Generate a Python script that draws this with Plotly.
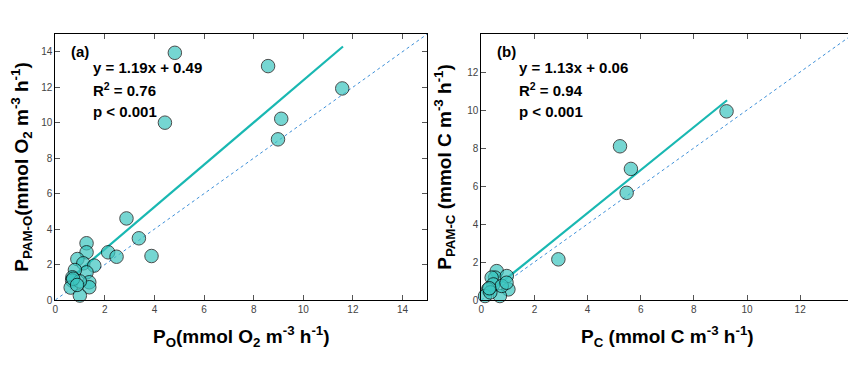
import plotly.graph_objects as go

# Panel (a): oxygen-based production
po_x = [4.82, 8.58, 11.57, 4.42, 9.11, 8.98, 2.87, 3.37, 3.88, 2.13, 2.47,
        1.26, 1.26, 0.89, 1.13, 1.57, 1.26, 0.79, 0.69, 0.68, 1.37, 1.37,
        0.62, 0.99, 0.99, 0.72, 0.88]
po_y = [13.94, 13.19, 11.93, 10.0, 10.22, 9.06, 4.6, 3.48, 2.48, 2.69, 2.44,
        3.2, 2.69, 2.31, 2.07, 1.94, 1.56, 1.69, 1.28, 1.1, 1.0, 0.72,
        0.7, 0.25, 1.05, 1.2, 0.85]
fit_a = (1.19, 0.49)
fit_a_x = [0.86, 11.6]

# Panel (b): carbon-based production
pc_x = [9.23, 5.22, 5.63, 5.47, 2.9, 0.58, 0.52, 0.39, 0.96, 0.45, 1.02,
        0.26, 0.14, 0.7, 0.77, 0.34, 0.95, 0.3]
pc_y = [9.93, 8.09, 6.9, 5.64, 2.14, 1.52, 1.18, 1.18, 1.26, 0.82, 0.56,
        0.56, 0.21, 0.21, 0.74, 0.4, 0.91, 0.62]
fit_b = (1.13, 0.06)
fit_b_x = [0.3, 9.25]

ticks_a = [0, 2, 4, 6, 8, 10, 12, 14]
ticks_b = [0, 2, 4, 6, 8, 10, 12]

FONT = "Arial, Liberation Sans, sans-serif"
LINE_COL = "#19b8b2"
ONE_COL = "#3d8fd8"
MARK_COL = "#3cc6c0"

W, H = 848, 358  # page body has an 8px margin
MT, MB = 26, 66
PH = H - MT - MB

fig = go.Figure()

def add_panel(xs, ys, fit, fx, lim, xa, ya):
    fig.add_trace(go.Scatter(x=[0, lim], y=[0, lim], mode="lines",
                             line=dict(color=ONE_COL, width=1, dash="dot"),
                             xaxis=xa, yaxis=ya, showlegend=False))
    fig.add_trace(go.Scatter(x=fx, y=[fit[0] * v + fit[1] for v in fx], mode="lines",
                             line=dict(color=LINE_COL, width=2.2),
                             xaxis=xa, yaxis=ya, showlegend=False))
    fig.add_trace(go.Scatter(x=xs, y=ys, mode="markers",
                             marker=dict(size=13.5, color=MARK_COL, opacity=0.7,
                                         line=dict(color="black", width=1)),
                             xaxis=xa, yaxis=ya, showlegend=False, cliponaxis=False))

add_panel(po_x, po_y, fit_a, fit_a_x, 15, "x", "y")
add_panel(pc_x, pc_y, fit_b, fit_b_x, 14, "x2", "y2")

axis_common = dict(showline=True, linecolor="black", linewidth=1, mirror="ticks",
                   ticks="inside", ticklen=5, tickcolor="#555", showgrid=False,
                   zeroline=False, automargin=False,
                   tickfont=dict(family=FONT, size=10, color="#444"))
title_font = dict(family=FONT, size=19, color="black")

fig.update_layout(
    width=W, height=H,
    margin=dict(l=0, r=0, t=MT, b=MB),
    paper_bgcolor="white", plot_bgcolor="white",
    xaxis=dict(domain=[47.3 / W, 419.3 / W], range=[0, 15], tickvals=ticks_a, anchor="y",
               title=dict(text="<b>P<sub>O</sub>(mmol O<sub>2</sub> m<sup>-3</sup> h<sup>-1</sup>)</b>",
                          font=title_font, standoff=15), **axis_common),
    yaxis=dict(domain=[0, 1], range=[0, 15], tickvals=ticks_a, anchor="x",
               title=dict(text="<b>P<sub>PAM-O</sub>(mmol O<sub>2</sub> m<sup>-3</sup> h<sup>-1</sup>)</b>",
                          font=title_font, standoff=10), **axis_common),
    xaxis2=dict(domain=[473.3 / W, 845.3 / W], range=[0, 14], tickvals=ticks_b, anchor="y2",
                title=dict(text="<b>P<sub>C</sub> (mmol C m<sup>-3</sup> h<sup>-1</sup>)</b>",
                           font=title_font, standoff=15), **axis_common),
    yaxis2=dict(domain=[0, 1], range=[0, 14], tickvals=ticks_b, anchor="x2",
                title=dict(text="<b>P<sub>PAM-C</sub> (mmol C m<sup>-3</sup> h<sup>-1</sup>)</b>",
                           font=title_font, standoff=10), **axis_common),
)

def note(text, xp, yp):
    # xp, yp are page pixel positions; convert to paper coords of the plot area
    fig.add_annotation(text=text, x=(xp - 8) / W, y=1 - (yp - 8 - MT) / PH,
                       xref="paper", yref="paper",
                       xanchor="left", yanchor="middle", showarrow=False,
                       font=dict(family=FONT, size=15, color="black"))

note("<b>(a)</b>", 69, 51.5)
note("<b>y = 1.19x + 0.49</b>", 91, 67)
note("<b>R<sup>2</sup> = 0.76</b>", 91, 89)
note("<b>p < 0.001</b>", 91, 111)
note("<b>(b)</b>", 495, 51.5)
note("<b>y = 1.13x + 0.06</b>", 517, 67)
note("<b>R<sup>2</sup> = 0.94</b>", 517, 89)
note("<b>p < 0.001</b>", 517, 111)

fig.write_html("out.html")
